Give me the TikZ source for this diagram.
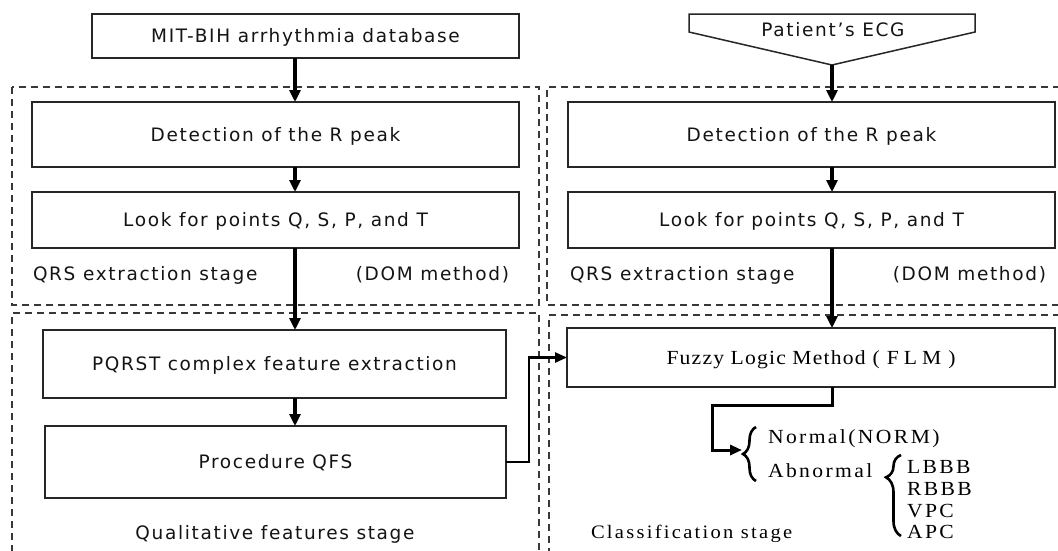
\documentclass[tikz,border=0pt]{standalone}
\usepackage{fontspec}
\setmainfont{Liberation Serif}
\newfontfamily\boxfont[LetterSpace=9]{DejaVu Sans}
\newfontfamily\seriffont[LetterSpace=12,FakeStretch=1.08]{Liberation Serif}
\newfontfamily\methodfont[LetterSpace=6,FakeStretch=1.08]{Liberation Serif}
\usetikzlibrary{arrows.meta,decorations.pathreplacing}

\begin{document}
\begin{tikzpicture}[x=1pt,y=-1pt,
  every node/.style={inner sep=0pt, outer sep=0pt},
  sansfont/.style={font=\boxfont\fontsize{18.5}{22}\selectfont, text=black!92},
  romanfont/.style={font=\seriffont\fontsize{19}{22}\selectfont, text=black},
  classfont/.style={font=\seriffont\fontsize{20}{22}\selectfont, text=black},
  stepbox/.style={sansfont, draw=black!85, line width=1.5pt, text height=13.5pt, text depth=0pt},
  flmbox/.style={font=\methodfont\fontsize{20}{22}\selectfont, text=black, draw=black!85, line width=1.5pt, text height=13.2pt, text depth=0pt},
  frame/.style={draw=black!78, line width=1.6pt, dash pattern=on 7pt off 5pt},
  flow/.style={line width=3.5pt, -{Triangle[length=12pt,width=11pt]}},
  link/.style={line width=2.6pt, -{Triangle[length=12pt,width=10pt]}},
  curly/.style={line width=2.6pt, decorate}
]
% canvas
\fill[white] (0,0) rectangle (1058,550);
\useasboundingbox (0,0) rectangle (1058,550);
\clip (0,0) rectangle (1058,550);

% column axes for the vertical flow
\coordinate (lc) at (295,0);
\coordinate (rc) at (832,0);

% stage frames
\draw[frame] (12,87) rectangle (539,305);
\draw[frame] (1060,87) -- (547,87) -- (547,305) -- (1060,305);
\draw[frame] (12,552) -- (12,313) -- (539,313) -- (539,552);
\draw[frame] (1060,315) -- (549,315) -- (549,552);

% left column: reference database
\node[stepbox, minimum width=427pt, minimum height=44pt] (mit) at (305.5,36) {MIT-BIH arrhythmia database};
\node[stepbox, minimum width=487pt, minimum height=65pt] (det1) at (275.5,134.5) {Detection of the R peak};
\node[stepbox, minimum width=487pt, minimum height=56pt] (look1) at (275.5,220) {Look for points Q, S, P, and T};
\node[stepbox, minimum width=463pt, minimum height=68pt] (pqrst) at (274.5,364) {PQRST complex feature extraction};
\node[stepbox, minimum width=461pt, minimum height=72pt] (qfs) at (275.5,462) {Procedure QFS};

% right column: patient record
\draw[draw=black!85, line width=1.5pt] (689,14) -- (975,14) -- (975,32) -- (832,65) -- (689,32) -- cycle;
\node[sansfont, anchor=base] (ecg) at (833,36) {Patient’s ECG};
\coordinate (ecgtip) at (832,65);
\node[stepbox, minimum width=487pt, minimum height=65pt] (det2) at (811.5,134.5) {Detection of the R peak};
\node[stepbox, minimum width=487pt, minimum height=56pt] (look2) at (811.5,220) {Look for points Q, S, P, and T};
\node[flmbox, minimum width=488pt, minimum height=59pt] (flm) at (811,357.5)
  {Fuzzy Logic Method\hspace{7pt}(\hspace{7pt}F\hspace{5pt}L\hspace{5pt}M\hspace{7pt})};

% stage captions
\node[sansfont, anchor=base west] (cap1) at (33,280) {QRS extraction stage};
\node[sansfont, anchor=base east] (dom1) at (509,280) {(DOM method)};
\node[sansfont, anchor=base west] (cap2) at (570,280) {QRS extraction stage};
\node[sansfont, anchor=base east] (dom2) at (1046,280) {(DOM method)};
\node[sansfont, anchor=base] (cap3) at (275,539) {Qualitative features stage};
\node[romanfont, anchor=base west] (cap4) at (591,538) {Classification stage};

% classes
\node[classfont, anchor=base west] (norm) at (768,443) {Normal(NORM)};
\node[classfont, anchor=base west] (abn) at (768,477) {Abnormal};
\node[classfont, anchor=base west] (lbbb) at (907,473) {LBBB};
\node[classfont, anchor=base west] (rbbb) at (907,495) {RBBB};
\node[classfont, anchor=base west] (vpc) at (907,517) {VPC};
\node[classfont, anchor=base west] (apc) at (907,538) {APC};
\draw[curly, decoration={brace, amplitude=13pt}] (756,481) -- (756,427);
\draw[curly, decoration={brace, amplitude=15pt, aspect=0.725}] (901,536) -- (901,455);
\coordinate (brtip) at (742,450);
\coordinate (bend) at (712,405);

% flow connectors
\draw[flow] (mit.south -| lc) -- (det1.north -| lc);
\draw[flow] (det1.south -| lc) -- (look1.north -| lc);
\draw[flow] (look1.south -| lc) -- (pqrst.north -| lc);
\draw[flow] (pqrst.south -| lc) -- (qfs.north -| lc);
\draw[flow] (ecgtip) -- (det2.north -| rc);
\draw[flow] (det2.south -| rc) -- (look2.north -| rc);
\draw[flow] (look2.south -| rc) -- (flm.north -| rc);
\draw[link] (qfs.east) -- ++(23,0) |- (flm.west);
\draw[link, line width=3pt] (flm.south -| rc) |- (bend) |- (brtip);
\end{tikzpicture}
\end{document}
